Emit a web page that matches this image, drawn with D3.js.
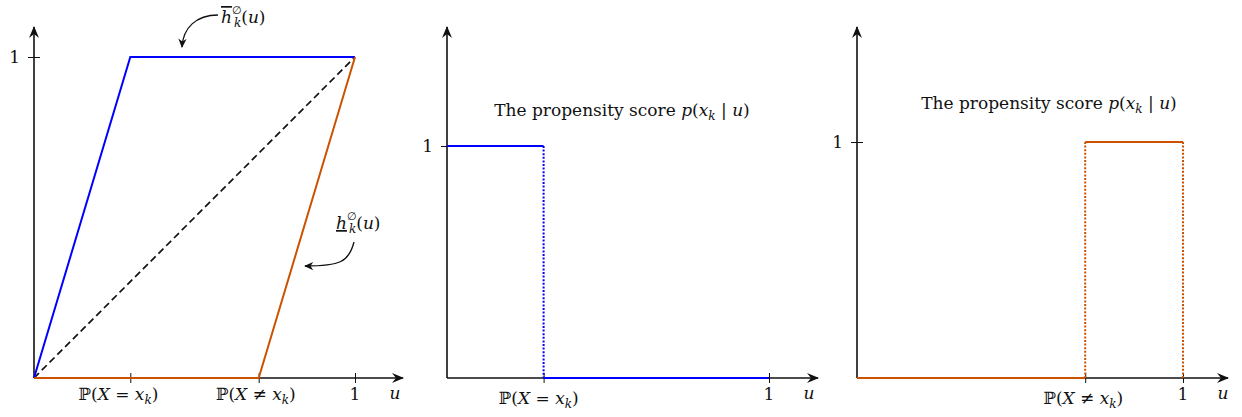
<!DOCTYPE html>
<html>
<head>
<meta charset="utf-8">
<script src="https://cdn.jsdelivr.net/npm/d3@7"></script>
<style>
  body { margin: 0; background: #fff; }
  text { font-family: "DejaVu Serif", "Liberation Serif", serif; fill: #111; }
  .m { font-style: italic; }
</style>
</head>
<body>
<div id="chart"></div>
<script>
// values
const pSame = 0.3;   // P(X = x_k)
const pDiff = 0.7;   // P(X != x_k)

// left panel: upper and lower bounds, and the diagonal
const upperU = [0, pSame, 1], upperH = [0, 1, 1];
const lowerU = [0, pDiff, 1], lowerH = [0, 0, 1];
const diagU = [0, 1], diagH = [0, 1];

// middle and right panel: propensity score step functions
const scoreAU = [0, pSame, pSame, 1], scoreAH = [1, 1, 0, 0];
const scoreAStyle = ["solid", "dotted", "solid"];
const scoreBU = [0, pDiff, pDiff, 1, 1], scoreBH = [0, 0, 1, 1, 0];
const scoreBStyle = ["solid", "dotted", "solid", "dotted"];

const width = 1242, height = 417;
const blue = "#0000ff", orange = "#cc5200";
const fs = 17;

const svg = d3.select("#chart").append("svg")
    .attr("width", width).attr("height", height);

// stealth style arrow head
svg.append("defs").append("marker")
    .attr("id", "arr").attr("viewBox", "-12 -6 14 12")
    .attr("refX", 0).attr("refY", 0)
    .attr("markerWidth", 14).attr("markerHeight", 12)
    .attr("markerUnits", "userSpaceOnUse")
    .attr("orient", "auto")
  .append("path")
    .attr("d", "M1,0 L-11,-5 L-7,0 L-11,5 Z")
    .attr("fill", "#111");

svg.select("defs").append("marker")
    .attr("id", "arrSmall").attr("viewBox", "-10 -5 12 10")
    .attr("refX", 0).attr("refY", 0)
    .attr("markerWidth", 11).attr("markerHeight", 10)
    .attr("markerUnits", "userSpaceOnUse")
    .attr("orient", "auto")
  .append("path")
    .attr("d", "M1,0 L-9,-4.5 L-6,0 L-9,4.5 Z")
    .attr("fill", "#111");

// panel layouts
const panels = [
    {x0: 34, x1: 355, y0: 378, y1: 57, xEnd: 403, yTop: 27},
    {x0: 447, x1: 769, y0: 378, y1: 146, xEnd: 818, yTop: 27},
    {x0: 857, x1: 1183, y0: 378, y1: 142, xEnd: 1228, yTop: 27}
];

function makePanel(p) {
    const x = d3.scaleLinear().domain([0, 1]).range([p.x0, p.x1]);
    const y = d3.scaleLinear().domain([0, 1]).range([p.y0, p.y1]);
    const g = svg.append("g");
    // axes with arrows
    g.append("line").attr("x1", p.x0).attr("y1", p.y0).attr("x2", p.xEnd).attr("y2", p.y0)
        .attr("stroke", "#111").attr("stroke-width", 1.6).attr("marker-end", "url(#arr)");
    g.append("line").attr("x1", p.x0).attr("y1", p.y0).attr("x2", p.x0).attr("y2", p.yTop)
        .attr("stroke", "#111").attr("stroke-width", 1.6).attr("marker-end", "url(#arr)");
    return {x, y, g};
}

function xTicks(P, vals) {
    const ax = d3.axisBottom(P.x).tickValues(vals).tickSize(8).tickFormat("");
    const a = P.g.append("g").attr("transform", `translate(0,${P.y.range()[0]})`).call(ax);
    a.select(".domain").remove();
    a.selectAll(".tick line").attr("y1", -5).attr("y2", 5).attr("stroke", "#111").attr("stroke-width", 1);
}

function yTick(P) {
    const ax = d3.axisLeft(P.y).tickValues([1]).tickSize(10).tickFormat("");
    const a = P.g.append("g").attr("transform", `translate(${P.x.range()[0]},0)`).call(ax);
    a.select(".domain").remove();
    a.selectAll(".tick line").attr("x1", -6).attr("x2", 6).attr("stroke", "#111").attr("stroke-width", 1);
    P.g.append("text").attr("x", P.x(0) - 14).attr("y", P.y(1) + 6)
        .attr("text-anchor", "end").attr("font-size", fs).text("1");
}

// P(X = x_k) / P(X != x_k) labels
function probLabel(g, cx, cy, rel) {
    const t = g.append("text").attr("x", cx).attr("y", cy)
        .attr("text-anchor", "middle").attr("font-size", fs);
    t.append("tspan").text("\u2119(");
    t.append("tspan").attr("class", "m").text("X");
    t.append("tspan").text(" " + rel + " ");
    t.append("tspan").attr("class", "m").text("x");
    t.append("tspan").attr("class", "m").attr("font-size", 12).attr("dy", 4).text("k");
    t.append("tspan").attr("dy", -4).text(")");
}

function uLabels(P) {
    P.g.append("text").attr("x", P.x(1)).attr("y", 400)
        .attr("text-anchor", "middle").attr("font-size", fs).text("1");
    P.g.append("text").attr("class", "m").attr("x", P.x.range()[1] + 40).attr("y", 399)
        .attr("text-anchor", "middle").attr("font-size", fs).text("u");
}

function title(g, cx, cy) {
    const t = g.append("text").attr("x", cx).attr("y", cy)
        .attr("text-anchor", "middle").attr("font-size", fs);
    t.append("tspan").text("The propensity score ");
    t.append("tspan").attr("class", "m").text("p");
    t.append("tspan").text("(");
    t.append("tspan").attr("class", "m").text("x");
    t.append("tspan").attr("class", "m").attr("font-size", 12).attr("dy", 4).text("k");
    t.append("tspan").attr("dy", -4).text(" | ");
    t.append("tspan").attr("class", "m").text("u");
    t.append("tspan").text(")");
}

function hLabel(g, cx, cy, bar) {
    const t = g.append("text").attr("x", cx).attr("y", cy).attr("font-size", fs);
    t.append("tspan").attr("class", "m").text("h")
        .style("text-decoration", bar ? "overline" : "underline");
    t.append("tspan").attr("font-size", 11).attr("dy", -9).text("\u2205");
    t.append("tspan").attr("class", "m").attr("font-size", 12).attr("dx", -8).attr("dy", 13).text("k");
    t.append("tspan").attr("dy", -4).text("(");
    t.append("tspan").attr("class", "m").text("u");
    t.append("tspan").text(")");
}

// ---- left panel ----
const A = makePanel(panels[0]);
xTicks(A, [pSame, pDiff, 1]);
yTick(A);
const lineA = d3.line().x(d => A.x(d[0])).y(d => A.y(d[1]));
A.g.append("path").attr("d", lineA(d3.zip(diagU, diagH)))
    .attr("fill", "none").attr("stroke", "#111").attr("stroke-width", 1.7).attr("stroke-dasharray", "7,4");
A.g.append("path").attr("d", lineA(d3.zip(upperU, upperH)))
    .attr("fill", "none").attr("stroke", blue).attr("stroke-width", 2);
A.g.append("path").attr("d", lineA(d3.zip(lowerU, lowerH)))
    .attr("fill", "none").attr("stroke", orange).attr("stroke-width", 2);
probLabel(A.g, A.x(pSame) - 12, 400, "=");
probLabel(A.g, A.x(pDiff) - 3, 400, "\u2260");
uLabels(A);
// annotations
hLabel(A.g, 221, 23, true);
A.g.append("path").attr("d", "M218,15 C196,15 183,28 182,47")
    .attr("fill", "none").attr("stroke", "#111").attr("stroke-width", 1.3).attr("marker-end", "url(#arrSmall)");
hLabel(A.g, 336, 229, false);
A.g.append("path").attr("d", "M354,242 C349,262 340,266 305,266")
    .attr("fill", "none").attr("stroke", "#111").attr("stroke-width", 1.3).attr("marker-end", "url(#arrSmall)");

// step function panels
function steps(P, us, hs, styles, color) {
    for (let i = 0; i < us.length - 1; i++) {
        P.g.append("line")
            .attr("x1", P.x(us[i])).attr("y1", P.y(hs[i]))
            .attr("x2", P.x(us[i + 1])).attr("y2", P.y(hs[i + 1]))
            .attr("stroke", color)
            .attr("stroke-width", styles[i] === "dotted" ? 2 : 2.2)
            .attr("stroke-dasharray", styles[i] === "dotted" ? "2,1.6" : null);
    }
}

// ---- middle panel ----
const B = makePanel(panels[1]);
xTicks(B, [pSame, 1]);
yTick(B);
steps(B, scoreAU, scoreAH, scoreAStyle, blue);
probLabel(B.g, B.x(pSame) - 5, 404, "=");
uLabels(B);
title(B.g, 622, 116);

// ---- right panel ----
const C = makePanel(panels[2]);
xTicks(C, [pDiff, 1]);
yTick(C);
steps(C, scoreBU, scoreBH, scoreBStyle, orange);
probLabel(C.g, C.x(pDiff) - 2, 404, "\u2260");
uLabels(C);
title(C.g, 1049, 109);
</script>
</body>
</html>
